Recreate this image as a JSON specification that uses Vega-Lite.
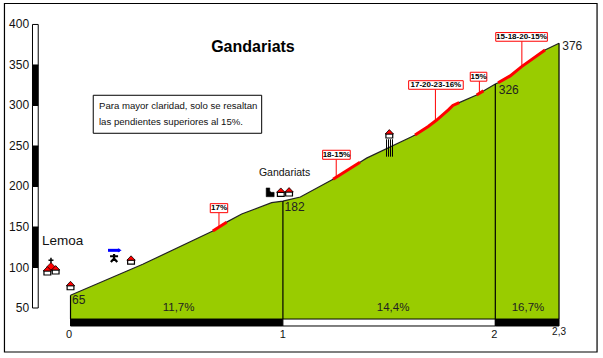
{"$schema":"https://vega.github.io/schema/vega-lite/v6.json","width":603,"height":358,"padding":0,"autosize":"none","background":"white",
"config":{"view":{"stroke":null},"point":{"opacity":1}},
"datasets":{
"profile":[{"km":0,"m":65.7},{"km":0.34,"m":104},{"km":0.67,"m":145},{"km":0.735,"m":156},{"km":0.806,"m":166},{"km":0.947,"m":180},{"km":1,"m":182},{"km":1.082,"m":187},{"km":1.236,"m":209},{"km":1.363,"m":230},{"km":1.394,"m":235},{"km":1.606,"m":261.5},{"km":1.622,"m":263.6},{"km":1.684,"m":274},{"km":1.724,"m":282},{"km":1.779,"m":294.5},{"km":1.8,"m":300},{"km":1.83,"m":303.5},{"km":1.912,"m":313},{"km":1.944,"m":318},{"km":2,"m":326.5},{"km":2.013,"m":328},{"km":2.07,"m":336.5},{"km":2.124,"m":348},{"km":2.234,"m":368.5},{"km":2.3,"m":376.8}],
"steep":[{"s":"a","km":0.67,"m":145},{"s":"a","km":0.735,"m":156},{"s":"b","km":1.236,"m":209},{"s":"b","km":1.363,"m":230},{"s":"c","km":1.622,"m":263.6},{"s":"c","km":1.684,"m":274},{"s":"c","km":1.724,"m":282},{"s":"c","km":1.779,"m":294.5},{"s":"c","km":1.8,"m":300},{"s":"c","km":1.83,"m":303.5},{"s":"d","km":1.912,"m":313},{"s":"d","km":1.944,"m":318},{"s":"e","km":2.013,"m":328},{"s":"e","km":2.07,"m":336.5},{"s":"e","km":2.124,"m":348},{"s":"e","km":2.234,"m":368.5}],
"flags":[{"label":"17%","km":0.699,"m":150,"l":0.658,"r":0.74,"lo":167.7,"hi":178.8,"cx":0.699,"cy":173.2},{"label":"18-15%","km":1.251,"m":212,"l":1.187,"r":1.317,"lo":233.6,"hi":244.7,"cx":1.252,"cy":239.2},{"label":"17-20-23-16%","km":1.718,"m":282,"l":1.592,"r":1.849,"lo":320,"hi":330.6,"cx":1.72,"cy":325.3},{"label":"15%","km":1.925,"m":316,"l":1.882,"r":1.96,"lo":330,"hi":341,"cx":1.921,"cy":335.5},{"label":"15-18-20-15%","km":2.125,"m":348,"l":2.002,"r":2.245,"lo":379.3,"hi":390,"cx":2.123,"cy":384.6}],
"bands":[{"a":50,"b":100,"c":"off"},{"a":100,"b":150,"c":"on"},{"a":150,"b":200,"c":"off"},{"a":200,"b":250,"c":"on"},{"a":250,"b":300,"c":"off"},{"a":300,"b":350,"c":"on"},{"a":350,"b":400,"c":"off"}],
"kmbands":[{"a":0,"b":1,"c":"on"},{"a":1,"b":2,"c":"off"},{"a":2,"b":2.3,"c":"on"}],
"dividers":[{"km":0,"m":65.7},{"km":1,"m":182},{"km":2,"m":326.5},{"km":2.3,"m":376.8}],
"yticks":[{"v":50},{"v":100},{"v":150},{"v":200},{"v":250},{"v":300},{"v":350},{"v":400}],
"xticks":[{"km":-0.007,"t":"0"},{"km":1,"t":"1"},{"km":1.995,"t":"2"}],
"heights":[{"t":"65","km":0.007,"m":59.9},{"t":"182","km":1.008,"m":174.7},{"t":"326","km":2.016,"m":319},{"t":"376","km":2.315,"m":373.8}],
"grades":[{"t":"11,7%","km":0.434,"m":50},{"t":"14,4%","km":1.442,"m":50},{"t":"16,7%","km":2.077,"m":50}],
"houses":[{"km":0,"m":77.5},{"km":0.285,"m":109},{"km":0.99,"m":192.8},{"km":1.029,"m":193.2},{"km":1.501,"m":264.8},{"km":-0.109,"m":95.7},{"km":-0.07,"m":96.9}],
"bars":[{"km":1.4878},{"km":1.4972},{"km":1.5066},{"km":1.516}]
},
"layer":[
{"data":{"values":[{"a":-0.311,"b":2.479,"lo":-4.3,"hi":425.9}]},"mark":{"type":"rect","fill":"white","stroke":"black","strokeWidth":1.2},"encoding":{"x":{"field":"a","type":"quantitative","scale":{"domain":[-0.332,2.507],"nice":false,"zero":false},"axis":null},"x2":{"field":"b"},"y":{"field":"lo","type":"quantitative","scale":{"domain":[-11.7,430.2],"nice":false,"zero":false},"axis":null},"y2":{"field":"hi"}}},
{"data":{"name":"profile"},"mark":{"type":"area","fill":"#99cc00","stroke":null},"encoding":{"x":{"field":"km","type":"quantitative"},"y":{"field":"m","type":"quantitative"},"y2":{"datum":36.4}}},
{"data":{"name":"profile"},"mark":{"type":"line","stroke":"#222222","strokeWidth":1.2},"encoding":{"x":{"field":"km","type":"quantitative"},"y":{"field":"m","type":"quantitative"}}},
{"data":{"name":"steep"},"mark":{"type":"line","stroke":"#ff0000","strokeWidth":3},"encoding":{"x":{"field":"km","type":"quantitative"},"y":{"field":"m","type":"quantitative"},"detail":{"field":"s"}}},
{"data":{"name":"dividers"},"mark":{"type":"rule","stroke":"black","strokeWidth":1.2},"encoding":{"x":{"field":"km","type":"quantitative"},"y":{"field":"m","type":"quantitative"},"y2":{"datum":36.4}}},
{"data":{"name":"kmbands"},"mark":{"type":"rect","stroke":"black","strokeWidth":1},"encoding":{"x":{"field":"a","type":"quantitative"},"x2":{"field":"b"},"y":{"datum":36.4,"type":"quantitative"},"y2":{"datum":27.8},"fill":{"field":"c","type":"nominal","legend":null,"scale":{"domain":["on","off"],"range":["black","white"]}}}},
{"data":{"name":"bands"},"mark":{"type":"rect","stroke":"black","strokeWidth":1},"encoding":{"x":{"datum":-0.179,"type":"quantitative"},"x2":{"datum":-0.152},"y":{"field":"a","type":"quantitative"},"y2":{"field":"b"},"fill":{"field":"c","type":"nominal","legend":null,"scale":{"domain":["on","off"],"range":["black","white"]}}}},
{"data":{"name":"yticks"},"mark":{"type":"text","align":"right","baseline":"middle","font":"Liberation Sans","fontSize":12,"color":"#111111"},"encoding":{"x":{"datum":-0.195,"type":"quantitative"},"y":{"field":"v","type":"quantitative"},"text":{"field":"v","type":"quantitative"}}},
{"data":{"name":"xticks"},"mark":{"type":"text","align":"center","baseline":"middle","font":"Liberation Sans","fontSize":11,"color":"#111111"},"encoding":{"x":{"field":"km","type":"quantitative"},"y":{"datum":16.7,"type":"quantitative"},"text":{"field":"t"}}},
{"data":{"values":[{"km":2.3,"m":20.8,"t":"2,3"}]},"mark":{"type":"text","align":"center","baseline":"middle","font":"Liberation Sans","fontSize":10,"color":"#111111"},"encoding":{"x":{"field":"km","type":"quantitative"},"y":{"field":"m","type":"quantitative"},"text":{"field":"t"}}},
{"data":{"name":"heights"},"mark":{"type":"text","align":"left","baseline":"middle","font":"Liberation Sans","fontSize":12,"color":"#222222"},"encoding":{"x":{"field":"km","type":"quantitative"},"y":{"field":"m","type":"quantitative"},"text":{"field":"t"}}},
{"data":{"name":"grades"},"mark":{"type":"text","align":"left","baseline":"middle","font":"Liberation Sans","fontSize":11.5,"color":"#222222"},"encoding":{"x":{"field":"km","type":"quantitative"},"y":{"field":"m","type":"quantitative"},"text":{"field":"t"}}},
{"data":{"values":[{"km":-0.134,"m":132.7,"t":"Lemoa"}]},"mark":{"type":"text","align":"left","baseline":"middle","font":"Liberation Sans","fontSize":13.5,"color":"#111111"},"encoding":{"x":{"field":"km","type":"quantitative"},"y":{"field":"m","type":"quantitative"},"text":{"field":"t"}}},
{"data":{"values":[{"km":0.887,"m":216.7,"t":"Gandariats"}]},"mark":{"type":"text","align":"left","baseline":"middle","font":"Liberation Sans","fontSize":10.5,"color":"#111111"},"encoding":{"x":{"field":"km","type":"quantitative"},"y":{"field":"m","type":"quantitative"},"text":{"field":"t"}}},
{"data":{"values":[{"km":0.859,"m":372,"t":"Gandariats"}]},"mark":{"type":"text","align":"center","baseline":"middle","font":"Liberation Sans","fontSize":16,"fontWeight":"bold","color":"black"},"encoding":{"x":{"field":"km","type":"quantitative"},"y":{"field":"m","type":"quantitative"},"text":{"field":"t"}}},
{"data":{"values":[{"a":0.107,"b":0.9,"lo":265.7,"hi":312.6}]},"mark":{"type":"rect","fill":"white","stroke":"black","strokeWidth":1},"encoding":{"x":{"field":"a","type":"quantitative"},"x2":{"field":"b"},"y":{"field":"lo","type":"quantitative"},"y2":{"field":"hi"}}},
{"data":{"values":[{"km":0.134,"m":299.4,"t":"Para mayor claridad, solo se resaltan"},{"km":0.134,"m":279,"t":"las pendientes superiores al 15%."}]},"mark":{"type":"text","align":"left","baseline":"middle","font":"Liberation Sans","fontSize":9.6,"color":"#111111"},"encoding":{"x":{"field":"km","type":"quantitative"},"y":{"field":"m","type":"quantitative"},"text":{"field":"t"}}},
{"data":{"name":"flags"},"mark":{"type":"rule","stroke":"#ff0000","strokeWidth":1},"encoding":{"x":{"field":"km","type":"quantitative"},"y":{"field":"m","type":"quantitative"},"y2":{"field":"lo"}}},
{"data":{"name":"flags"},"mark":{"type":"rect","fill":"white","stroke":"#ff0000","strokeWidth":1},"encoding":{"x":{"field":"l","type":"quantitative"},"x2":{"field":"r"},"y":{"field":"lo","type":"quantitative"},"y2":{"field":"hi"}}},
{"data":{"name":"flags"},"mark":{"type":"text","align":"center","baseline":"middle","font":"Liberation Sans","fontSize":8,"fontWeight":"bold","color":"black"},"encoding":{"x":{"field":"cx","type":"quantitative"},"y":{"field":"cy","type":"quantitative"},"text":{"field":"label"}}},
{"data":{"values":[{"km":-0.092,"m":112,"m2":103}]},"mark":{"type":"rule","stroke":"black","strokeWidth":1.5},"encoding":{"x":{"field":"km","type":"quantitative"},"y":{"field":"m","type":"quantitative"},"y2":{"field":"m2"}}},
{"data":{"values":[{"km":-0.092,"m":109}]},"mark":{"type":"point","opacity":1,"shape":"M-1,0L1,0","stroke":"black","strokeWidth":1.5,"size":25},"encoding":{"x":{"field":"km","type":"quantitative"},"y":{"field":"m","type":"quantitative"}}},
{"data":{"values":[{"km":-0.092,"m":101.5}]},"mark":{"type":"point","opacity":1,"shape":"M-1,0.7L-0.7,0L0,-0.7L0.7,0L1,0.7Z","filled":true,"fill":"#ff0000","stroke":"black","strokeWidth":0.6,"size":110},"encoding":{"x":{"field":"km","type":"quantitative"},"y":{"field":"m","type":"quantitative"}}},
{"data":{"name":"houses"},"mark":{"type":"point","opacity":1,"filled":true,"fill":"white","stroke":"black","strokeWidth":1.2,"shape":"M-0.85,0L0.85,0L0.85,1L-0.85,1Z","size":64},"encoding":{"x":{"field":"km","type":"quantitative"},"y":{"field":"m","type":"quantitative"}}},
{"data":{"name":"houses"},"mark":{"type":"point","opacity":1,"filled":true,"fill":"#ff0000","stroke":"black","strokeWidth":0.8,"shape":"M-1.05,0L0,-1.1L1.05,0Z","size":64},"encoding":{"x":{"field":"km","type":"quantitative"},"y":{"field":"m","type":"quantitative"}}},
{"data":{"values":[{"km":0.94,"m":192.8}]},"mark":{"type":"point","opacity":1,"filled":true,"fill":"black","stroke":"black","strokeWidth":0.5,"shape":"M-1,1.1L-1,-1.1L-0.1,-1.1L-0.1,-0.3L0.3,0L1,0L1,1.1Z","size":64},"encoding":{"x":{"field":"km","type":"quantitative"},"y":{"field":"m","type":"quantitative"}}},
{"data":{"values":[{"km":0.205,"m":111.7}]},"mark":{"type":"point","opacity":1,"shape":"M0,-1L0,0.1M-1,-0.45L1,-0.45M0,0.1L-0.8,1M0,0.1L0.8,1","stroke":"black","strokeWidth":2.2,"size":64},"encoding":{"x":{"field":"km","type":"quantitative"},"y":{"field":"m","type":"quantitative"}}},
{"data":{"values":[{"km":0.1766,"km2":0.232,"m":121.2}]},"mark":{"type":"rule","stroke":"#0000ff","strokeWidth":3},"encoding":{"x":{"field":"km","type":"quantitative"},"x2":{"field":"km2"},"y":{"field":"m","type":"quantitative"}}},
{"data":{"values":[{"km":0.232,"m":121.2}]},"mark":{"type":"point","opacity":1,"filled":true,"fill":"#0000ff","shape":"triangle-right","stroke":null,"size":18},"encoding":{"x":{"field":"km","type":"quantitative"},"y":{"field":"m","type":"quantitative"}}},
{"data":{"name":"bars"},"mark":{"type":"rule","stroke":"black","strokeWidth":1},"encoding":{"x":{"field":"km","type":"quantitative"},"y":{"datum":258.3,"type":"quantitative"},"y2":{"datum":236.8}}}
]}
